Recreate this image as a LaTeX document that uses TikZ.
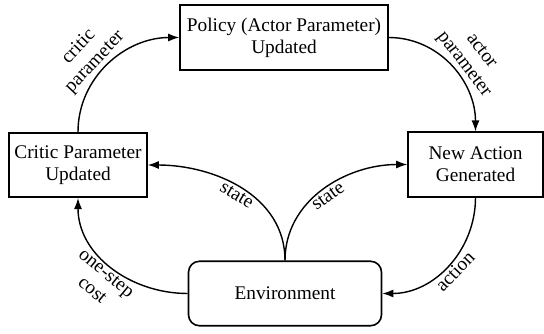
\documentclass[tikz,border=0pt]{standalone}
\usepackage{fontspec}
\setmainfont{Liberation Serif}
\usepackage{tikz}
\usetikzlibrary{arrows.meta}

\begin{document}
\begin{tikzpicture}[
    font=\fontsize{11}{12.5}\selectfont,
    box/.style={draw, line width=0.9pt, align=center, minimum height=1.29cm, inner sep=2pt},
    envbox/.style={box, rounded corners=0.22cm},
    lbl/.style={sloped, align=center, inner sep=1pt},
    >={Latex[length=2.2mm, width=1.6mm]}
]
\useasboundingbox (0,0) rectangle (10.88,6.66);

% Nodes
\node[box, minimum width=4.16cm] (policy) at (5.68,5.91) {Policy (Actor Parameter)\\Updated};
\node[box, minimum width=2.76cm] (critic) at (1.56,3.36) {Critic Parameter\\Updated};
\node[box, minimum width=2.7cm] (action) at (9.51,3.37) {New Action\\Generated};
\node[envbox, minimum width=3.86cm] (env) at (5.70,0.79) {Environment};

% Edges with sloped labels
\draw[->, thick] (critic.north) to[out=90, in=180] node[lbl, above, pos=0.45] {critic\\parameter} (policy.west);
\draw[->, thick] (policy.east) to[out=0, in=90] node[lbl, above, pos=0.55] {actor\\parameter} (action.north);
\draw[->, thick] (action.south) to[out=-90, in=0] node[lbl, below] {action} (env.east);
\draw[->, thick] (env.west) to[out=180, in=-90] node[lbl, below] {one-step\\cost} (critic.south);
\draw[->, thick] (env.north) to[out=90, in=0] node[lbl, below] {state} (critic.east);
\draw[->, thick] (env.north) to[out=90, in=180] node[lbl, below] {state} (action.west);

\end{tikzpicture}
\end{document}
